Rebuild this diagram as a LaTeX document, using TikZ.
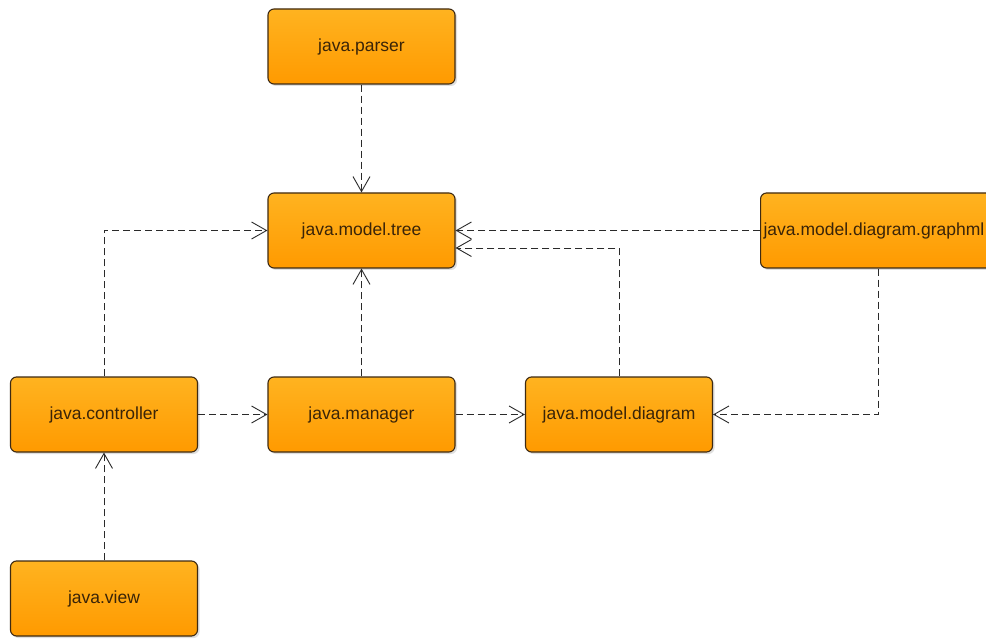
\documentclass[tikz,border=0pt]{standalone}
\usepackage{fontspec}
\setmainfont{Liberation Sans}
\usetikzlibrary{arrows.meta,shadows,calc}
\definecolor{boxborder}{HTML}{3E2A12}
\definecolor{boxtop}{HTML}{FFB320}
\definecolor{boxbot}{HTML}{FF9A00}
\definecolor{txtcol}{HTML}{3A2408}
\definecolor{linecol}{HTML}{2A2A2A}
\tikzset{
  pkg/.style={draw=boxborder, line width=1.1pt, rounded corners=6pt,
    top color=boxtop, bottom color=boxbot, minimum width=187pt, minimum height=75pt,
    font=\fontsize{17.5}{19}\selectfont, text=txtcol,
    drop shadow={opacity=0.25, shadow xshift=2pt, shadow yshift=-2pt}},
  dep/.style={draw=linecol, line width=0.9pt, dash pattern=on 7pt off 4pt,
    -{Straight Barb[length=15pt,width=17pt,line width=0.9pt]}}
}
\begin{document}
\begin{tikzpicture}[x=1pt,y=-1pt]
\useasboundingbox (0,0) rectangle (986,639);
\fill[white] (0,0) rectangle (986,639);
\begin{scope}
\clip (0,0) rectangle (986,639);
\node[pkg] (parser) at (361.5,46.5) {java.parser};
\node[pkg] (tree) at (361.5,230.5) {java.model.tree};
\node[pkg, anchor=west, minimum width=250pt, text width=244pt, align=left, inner xsep=3pt] (graphml) at (760,230.5) {java.model.diagram.graphml};
\node[pkg] (controller) at (104,414.5) {java.controller};
\node[pkg] (manager) at (361.5,414.5) {java.manager};
\node[pkg] (diagram) at (619,414.5) {java.model.diagram};
\node[pkg] (view) at (104,598.5) {java.view};
\end{scope}
\draw[dep] (parser) -- (tree);
\draw[dep] (manager) -- (tree);
\draw[dep] (controller.north) |- (tree.west);
\draw[dep] (graphml.west) -- (tree.east);
\draw[dep] (diagram.north) |- ($(tree.east)+(0,17.5)$);
\draw[dep] ($(graphml.south west)+(118,0)$) |- (diagram.east);
\draw[dep] (controller) -- (manager);
\draw[dep] (manager) -- (diagram);
\draw[dep] (view) -- (controller);
\end{tikzpicture}
\end{document}
